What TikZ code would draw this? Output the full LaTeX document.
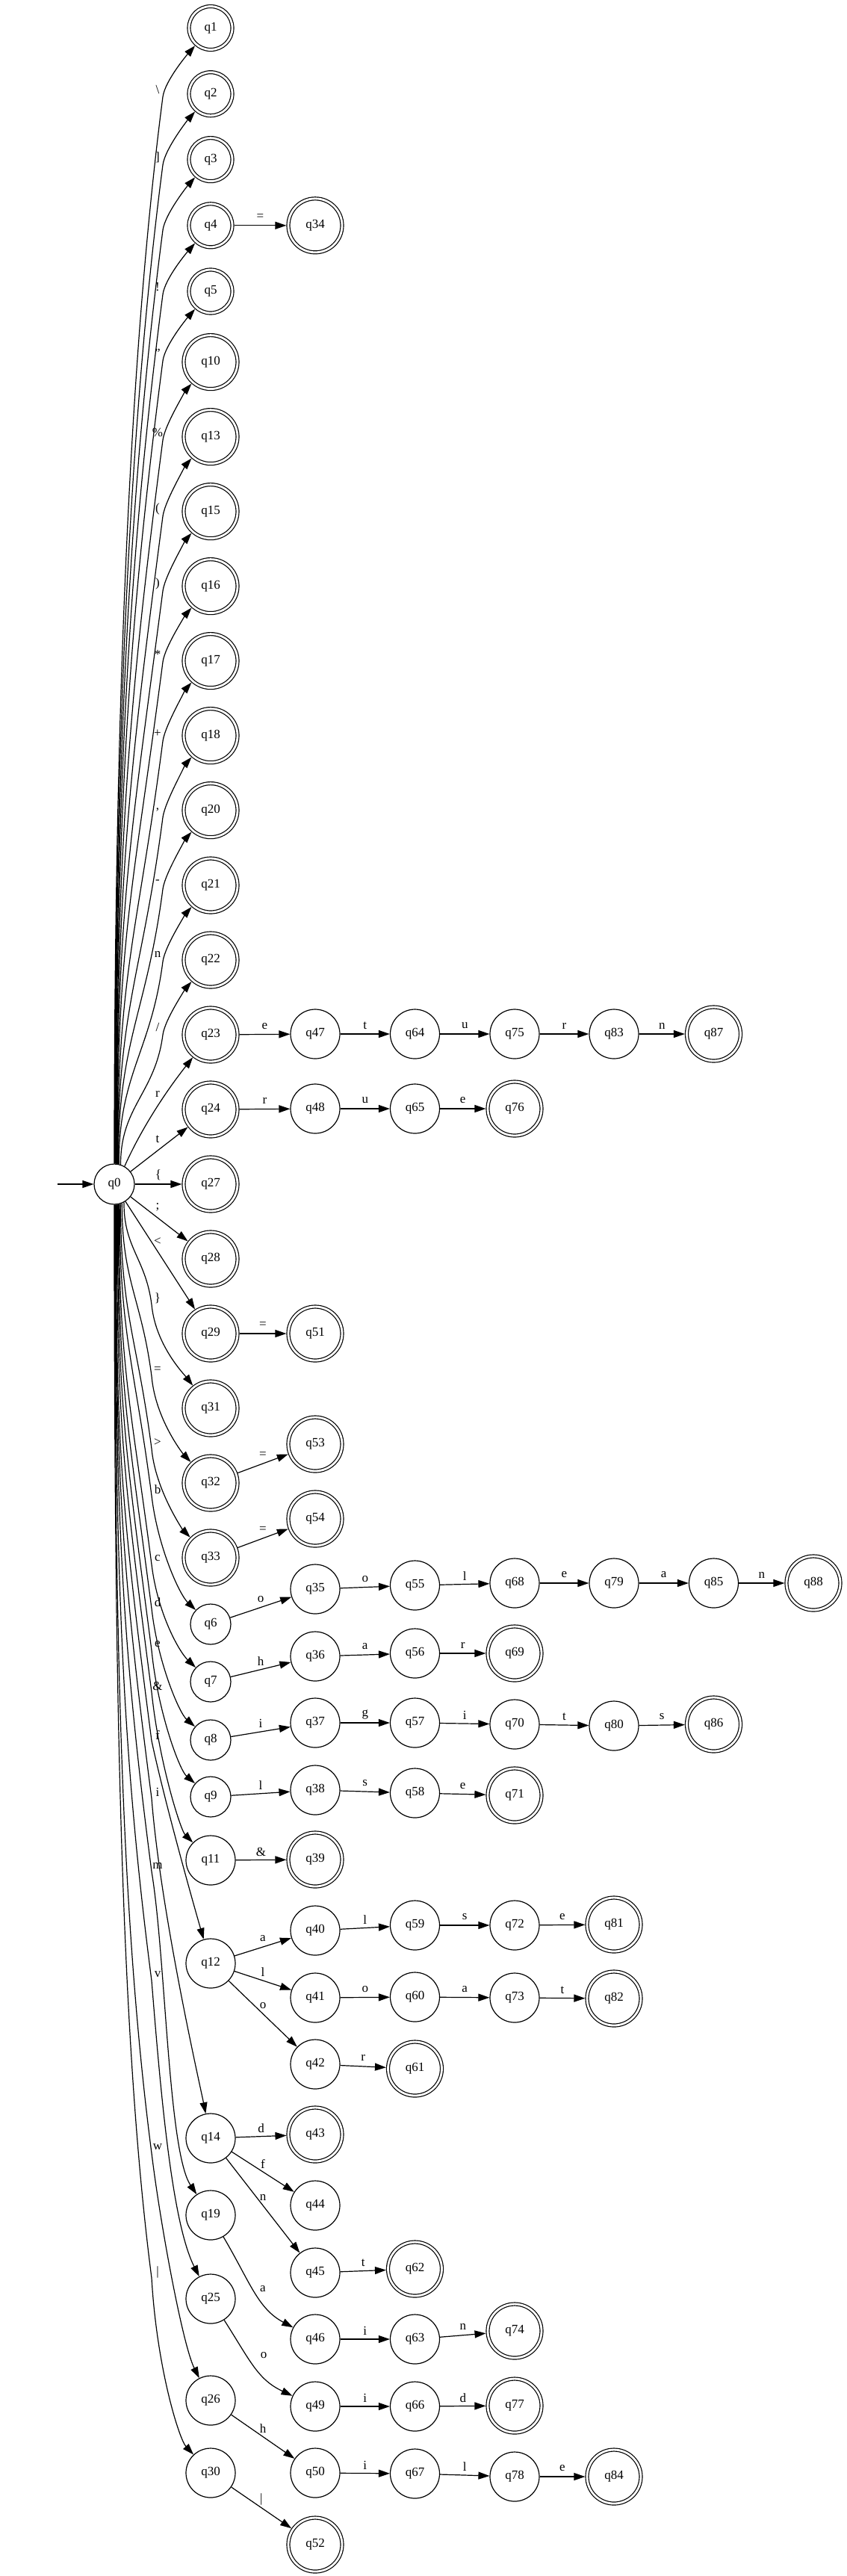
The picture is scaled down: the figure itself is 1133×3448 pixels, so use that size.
\documentclass[tikz,border=0pt]{standalone}
\usepackage{fontspec}
\setmainfont{Liberation Serif}
\usetikzlibrary{arrows.meta}
\newcommand\upedge[3]{%
  \pgfmathsetmacro\qSX{153+27*cos(#3)}%
  \pgfmathsetmacro\qSY{1585-27*sin(#3)}%
  \pgfmathsetmacro\qMY{#2+10}%
  \pgfmathsetmacro\qH{\qSY-\qMY}%
  \pgfmathsetmacro\qK{min(0.45*\qH,320)}%
  \pgfmathsetmacro\qCA{\qSY-0.45*\qH}%
  \pgfmathsetmacro\qCB{\qMY+\qK}%
  \pgfmathsetmacro\qCX{218-0.13*\qK}%
  \pgfmathsetmacro\qCC{\qMY-22}%
  \draw[arr] (q0.#3) .. controls (\qSX,\qCA) and (\qCX,\qCB) .. (218,\qMY) .. controls (221,\qCC) and ([shift={(-30,34)}]#1.center) .. (#1);%
}
\newcommand\loedge[7]{%
  \pgfmathsetmacro\qSX{153+27*cos(#3)}%
  \pgfmathsetmacro\qSY{1585-27*sin(#3)}%
  \pgfmathsetmacro\qMY{#2+8}%
  \pgfmathsetmacro\qH{\qMY-\qSY}%
  \pgfmathsetmacro\qK{min(0.45*\qH,320)}%
  \pgfmathsetmacro\qCA{\qSY+0.45*\qH}%
  \pgfmathsetmacro\qCB{\qMY-\qK}%
  \pgfmathsetmacro\qCX{203-0.13*\qK}%
  \draw[arr] (q0.#3) .. controls (\qSX,\qCA) and (\qCX,\qCB) .. (203,\qMY) .. controls (#4,#5) and ([shift={(#6,#7)}]#1.center) .. (#1);%
}
\tikzset{
  every node/.style={font=\fontsize{17}{20}\selectfont},
  s1/.style={circle, draw, line width=1.2pt, minimum size=54pt, inner sep=0pt},
  s2/.style={s1, minimum size=66pt},
  a1/.style={circle, draw, line width=1.2pt, double, double distance=2.8pt, minimum size=58pt, inner sep=0pt, outer sep=2.6pt},
  a2/.style={a1, minimum size=72pt},
  arr/.style={-{Triangle[length=15pt,width=10pt]}, line width=1.2pt},
  elab/.style={inner sep=0pt},
  hl/.style={midway, yshift=11pt, inner sep=0pt},
}
\begin{document}
\begin{tikzpicture}[x=1pt,y=-1pt]
\useasboundingbox (0,0) rectangle (1133,3448);
% start
\node[s1] (q0) at (153,1585) {q0};
\coordinate (init) at (77,1585);
\draw[arr] (init) -- (q0);
% column 1
\node[a1] (q1) at (282,37.5) {q1};
\node[a1] (q2) at (282,125.7) {q2};
\node[a1] (q3) at (282,213.6) {q3};
\node[a1] (q4) at (282,301.8) {q4};
\node[a1] (q5) at (282,390) {q5};
\node[a2] (q10) at (282,484.6) {q10};
\node[a2] (q13) at (282,584.6) {q13};
\node[a2] (q15) at (282,684.6) {q15};
\node[a2] (q16) at (282,784.6) {q16};
\node[a2] (q17) at (282,884.6) {q17};
\node[a2] (q18) at (282,984.6) {q18};
\node[a2] (q20) at (282,1084.6) {q20};
\node[a2] (q21) at (282,1185) {q21};
\node[a2] (q22) at (282,1285) {q22};
\node[a2] (q23) at (282,1385) {q23};
\node[a2] (q24) at (282,1485) {q24};
\node[a2] (q27) at (282,1585) {q27};
\node[a2] (q28) at (282,1685) {q28};
\node[a2] (q29) at (282,1785) {q29};
\node[a2] (q31) at (282,1885) {q31};
\node[a2] (q32) at (282,1985) {q32};
\node[a2] (q33) at (282,2085) {q33};
\node[s1] (q6) at (282,2174) {q6};
\node[s1] (q7) at (282,2251) {q7};
\node[s1] (q8) at (282,2329) {q8};
\node[s1] (q9) at (282,2405) {q9};
\node[s2] (q11) at (282,2490) {q11};
\node[s2] (q12) at (282,2628) {q12};
\node[s2] (q14) at (282,2862) {q14};
\node[s2] (q19) at (282,2965) {q19};
\node[s2] (q25) at (282,3077) {q25};
\node[s2] (q26) at (282,3213) {q26};
\node[s2] (q30) at (282,3310) {q30};
% column 2
\node[a2] (q34) at (422,301.8) {q34};
\node[s2] (q47) at (422,1384) {q47};
\node[s2] (q48) at (422,1484) {q48};
\node[a2] (q51) at (422,1785) {q51};
\node[a2] (q53) at (422,1933) {q53};
\node[a2] (q54) at (422,2033) {q54};
\node[s2] (q35) at (422,2127) {q35};
\node[s2] (q36) at (422,2217) {q36};
\node[s2] (q37) at (422,2306) {q37};
\node[s2] (q38) at (422,2396) {q38};
\node[a2] (q39) at (422,2489) {q39};
\node[s2] (q40) at (422,2584) {q40};
\node[s2] (q41) at (422,2674) {q41};
\node[s2] (q42) at (422,2763) {q42};
\node[a2] (q43) at (422,2857) {q43};
\node[s2] (q44) at (422,2952) {q44};
\node[s2] (q45) at (422,3042) {q45};
\node[s2] (q46) at (422,3131) {q46};
\node[s2] (q49) at (422,3221) {q49};
\node[s2] (q50) at (422,3310) {q50};
\node[a2] (q52) at (422,3406) {q52};
% column 3
\node[s2] (q64) at (555.5,1384) {q64};
\node[s2] (q65) at (555.5,1484) {q65};
\node[s2] (q55) at (555.5,2122) {q55};
\node[s2] (q56) at (555.5,2213) {q56};
\node[s2] (q57) at (555.5,2306) {q57};
\node[s2] (q58) at (555.5,2400) {q58};
\node[s2] (q59) at (555.5,2577) {q59};
\node[s2] (q60) at (555.5,2673) {q60};
\node[a2] (q61) at (555.5,2769) {q61};
\node[a2] (q62) at (555.5,3037) {q62};
\node[s2] (q63) at (555.5,3131) {q63};
\node[s2] (q66) at (555.5,3221) {q66};
\node[s2] (q67) at (555.5,3311) {q67};
% column 4
\node[s2] (q75) at (689,1384) {q75};
\node[a2] (q76) at (689,1484) {q76};
\node[s2] (q68) at (689,2119) {q68};
\node[a2] (q69) at (689,2213) {q69};
\node[s2] (q70) at (689,2308) {q70};
\node[a2] (q71) at (689,2403) {q71};
\node[s2] (q72) at (689,2577) {q72};
\node[s2] (q73) at (689,2674) {q73};
\node[a2] (q74) at (689,3120) {q74};
\node[a2] (q77) at (689,3220) {q77};
\node[s2] (q78) at (689,3315) {q78};
% column 5
\node[s2] (q83) at (822,1384) {q83};
\node[s2] (q79) at (822,2119) {q79};
\node[s2] (q80) at (822,2310) {q80};
\node[a2] (q81) at (822,2576) {q81};
\node[a2] (q82) at (822,2675) {q82};
\node[a2] (q84) at (822,3315) {q84};
% column 6, 7
\node[a2] (q87) at (955.5,1384) {q87};
\node[s2] (q85) at (955.5,2119) {q85};
\node[a2] (q86) at (955.5,2308) {q86};
\node[a2] (q88) at (1089,2119) {q88};

% ---- fan from q0, upper part
\upedge{q1}{119.6}{90}
\upedge{q2}{210.7}{89}
\upedge{q3}{298}{88}
\upedge{q4}{384}{87}
\upedge{q5}{473}{86}
\upedge{q10}{579}{85}
\upedge{q13}{681}{84}
\upedge{q15}{781}{83}
\upedge{q16}{876}{82}
\upedge{q17}{982}{81}
\upedge{q18}{1084}{80}
\upedge{q20}{1180}{79}
\upedge{q21}{1277}{77}
\upedge{q22}{1375}{72}
\draw[arr] (q0.60) .. controls (185,1520) and (215,1470) .. (q23);
\draw[arr] (q0) -- (q24);
\draw[arr] (q0) -- (q27);
\draw[arr] (q0) -- (q28);
\draw[arr] (q0) -- (q29);
\node[elab] (l1) at (211,119.6) {\textbackslash};
\node[elab] (l2) at (211,210.7) {]};
\node[elab] (l4) at (211,384) {!};
\node[elab] (l5) at (211,473) {"};
\node[elab] (l10) at (211,579) {\%};
\node[elab] (l13) at (211,681) {(};
\node[elab] (l15) at (211,781) {)};
\node[elab] (l16) at (211,876) {*};
\node[elab] (l17) at (211,982) {+};
\node[elab] (l18) at (211,1084) {,};
\node[elab] (l20) at (211,1180) {-};
\node[elab] (l21) at (211,1277) {n};
\node[elab] (l22) at (211,1375) {/};
\node[elab] (l23) at (211,1464) {r};
\node[elab] (l24) at (211,1525) {t};
\node[elab] (l27) at (212,1573) {\{};
\node[elab] (l28) at (211,1616) {;};
\node[elab] (l29) at (211,1662) {<};
% ---- fan from q0, lower part
\loedge{q31}{1738}{298}{208}{1800}{-36}{-46}
\loedge{q32}{1834}{292}{208}{1900}{-36}{-38}
\loedge{q33}{1931}{288}{208}{1995}{-36}{-36}
\loedge{q6}{1994}{285}{211}{2070}{-42}{-40}
\loedge{q7}{2086}{283}{211}{2160}{-42}{-40}
\loedge{q8}{2145}{281}{211}{2225}{-42}{-36}
\loedge{q9}{2201}{279}{211}{2290}{-42}{-36}
\loedge{q11}{2257}{277}{213}{2360}{-40}{-40}
\loedge{q12}{2322}{275}{220}{2410}{-24}{-83}
\loedge{q14}{2399}{274}{215}{2560}{-14}{-70}
\loedge{q19}{2497}{273}{222}{2620}{-57}{-85}
\loedge{q25}{2643}{272}{215}{2800}{-52}{-102}
\loedge{q26}{2874}{271}{215}{2980}{-37}{-73}
\loedge{q30}{3041}{270}{210}{3170}{-42}{-45}
\node[elab] (l31) at (211,1738) {\}};
\node[elab] (l32) at (211,1834) {=};
\node[elab] (l33) at (211,1931) {>};
\node[elab] (l6) at (211,1994) {b};
\node[elab] (l7) at (211,2086) {c};
\node[elab] (l8) at (211,2145) {d};
\node[elab] (l9) at (211,2201) {e};
\node[elab] (l11) at (211,2257) {\&};
\node[elab] (l12) at (211,2322) {f};
\node[elab] (l14) at (211,2399) {i};
\node[elab] (l19) at (211,2497) {m};
\node[elab] (l25) at (211,2643) {v};
\node[elab] (l26) at (211,2874) {w};
\node[elab] (l30) at (211,3041) {|};

% ---- other transitions
\draw[arr] (q4) -- node[hl] (e1) {=} (q34);
\draw[arr] (q23) -- node[hl] (e2) {e} (q47);
\draw[arr] (q47) -- node[hl] (e3) {t} (q64);
\draw[arr] (q64) -- node[hl] (e4) {u} (q75);
\draw[arr] (q75) -- node[hl] (e5) {r} (q83);
\draw[arr] (q83) -- node[hl] (e6) {n} (q87);
\draw[arr] (q24) -- node[hl] (e7) {r} (q48);
\draw[arr] (q48) -- node[hl] (e8) {u} (q65);
\draw[arr] (q65) -- node[hl] (e9) {e} (q76);
\draw[arr] (q29) -- node[hl] (e10) {=} (q51);
\draw[arr] (q32) -- node[hl] (e11) {=} (q53);
\draw[arr] (q33) -- node[hl] (e12) {=} (q54);
\draw[arr] (q6) -- node[hl] (e13) {o} (q35);
\draw[arr] (q35) -- node[hl] (e14) {o} (q55);
\draw[arr] (q55) -- node[hl] (e15) {l} (q68);
\draw[arr] (q68) -- node[hl] (e16) {e} (q79);
\draw[arr] (q79) -- node[hl] (e17) {a} (q85);
\draw[arr] (q85) -- node[hl] (e18) {n} (q88);
\draw[arr] (q7) -- node[hl] (e19) {h} (q36);
\draw[arr] (q36) -- node[hl] (e20) {a} (q56);
\draw[arr] (q56) -- node[hl] (e21) {r} (q69);
\draw[arr] (q8) -- node[hl] (e22) {i} (q37);
\draw[arr] (q37) -- node[hl] (e23) {g} (q57);
\draw[arr] (q57) -- node[hl] (e24) {i} (q70);
\draw[arr] (q70) -- node[hl] (e25) {t} (q80);
\draw[arr] (q80) -- node[hl] (e26) {s} (q86);
\draw[arr] (q9) -- node[hl] (e27) {l} (q38);
\draw[arr] (q38) -- node[hl] (e28) {s} (q58);
\draw[arr] (q58) -- node[hl] (e29) {e} (q71);
\draw[arr] (q11) -- node[hl] (e30) {\&} (q39);
\draw[arr] (q12) -- node[hl] (e31) {a} (q40);
\draw[arr] (q40) -- node[hl] (e32) {l} (q59);
\draw[arr] (q59) -- node[hl] (e33) {s} (q72);
\draw[arr] (q72) -- node[hl] (e34) {e} (q81);
\draw[arr] (q12) -- node[hl] (e35) {l} (q41);
\draw[arr] (q41) -- node[hl] (e36) {o} (q60);
\draw[arr] (q60) -- node[hl] (e37) {a} (q73);
\draw[arr] (q73) -- node[hl] (e38) {t} (q82);
\draw[arr] (q12) -- node[hl] (e39) {o} (q42);
\draw[arr] (q42) -- node[hl] (e40) {r} (q61);
\draw[arr] (q14) -- node[hl] (e41) {d} (q43);
\draw[arr] (q14) -- node[hl] (e42) {f} (q44);
\draw[arr] (q14) -- node[hl] (e43) {n} (q45);
\draw[arr] (q45) -- node[hl] (e44) {t} (q62);
\draw[arr] (q19) .. controls (335,3055) and (345,3090) .. (q46);
\node[elab] (e45) at (352,3064) {a};
\draw[arr] (q46) -- node[hl] (e46) {i} (q63);
\draw[arr] (q63) -- node[hl] (e47) {n} (q74);
\draw[arr] (q25) .. controls (335,3160) and (345,3185) .. (q49);
\node[elab] (e48) at (353,3153) {o};
\draw[arr] (q49) -- node[hl] (e49) {i} (q66);
\draw[arr] (q66) -- node[hl] (e50) {d} (q77);
\draw[arr] (q26) -- node[hl] (e51) {h} (q50);
\draw[arr] (q50) -- node[hl] (e52) {i} (q67);
\draw[arr] (q67) -- node[hl] (e53) {l} (q78);
\draw[arr] (q78) -- node[hl] (e54) {e} (q84);
\draw[arr] (q30) -- node[hl] (e55) {|} (q52);
\end{tikzpicture}
\end{document}
